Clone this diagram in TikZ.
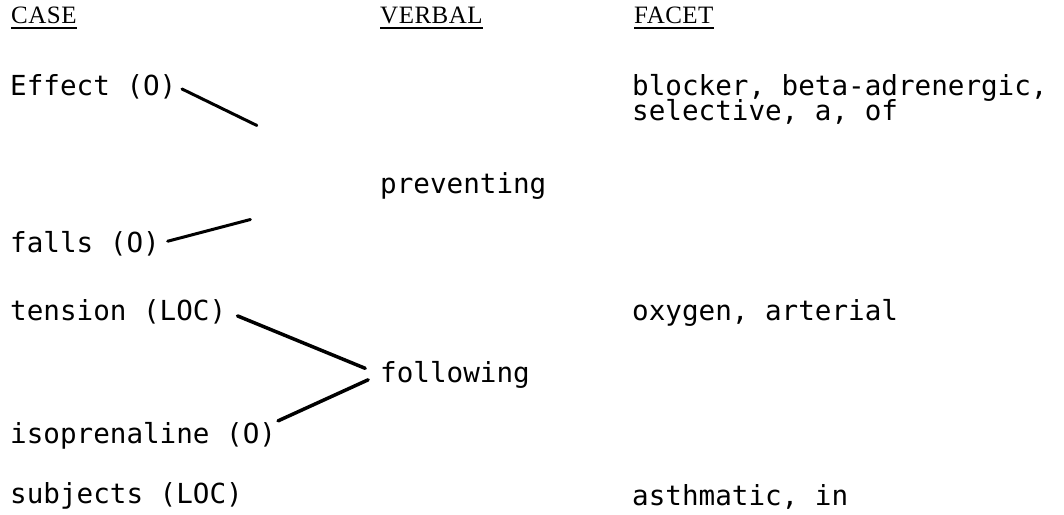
\documentclass[tikz,border=0pt]{standalone}
\usepackage{fontspec}
\setmonofont{DejaVu Sans Mono}
\newfontfamily\headfont[LetterSpace=2]{Liberation Serif}

\tikzset{
  word/.style={anchor=base west,inner sep=0pt,font=\ttfamily\fontsize{27.6}{30}\selectfont},
  head/.style={anchor=base west,inner sep=0pt,font=\headfont\fontsize{25}{27}\selectfont},
  link/.style={draw=black,line width=3.5pt,line cap=round},
  rule/.style={draw=black,line width=1.8pt}
}

\begin{document}
\begin{tikzpicture}[x=1pt,y=-1pt]

\useasboundingbox (0,0) rectangle (1064,514);

%headings
\node[head] (hcase) at (11,23) {CASE};
\node[head] (hverb) at (380,23) {VERBAL};
\node[head] (hfacet) at (634,23) {FACET};
\path[rule] ([yshift=-5pt]hcase.base west) -- ([yshift=-5pt]hcase.base east);
\path[rule] ([yshift=-5pt]hverb.base west) -- ([yshift=-5pt]hverb.base east);
\path[rule] ([yshift=-5pt]hfacet.base west) -- ([yshift=-5pt]hfacet.base east);

%case
\node[word] (effect) at (10,95) {Effect (O)};
\node[word] (falls) at (10,252) {falls (O)};
\node[word] (tension) at (10,320) {tension (LOC)};
\node[word] (isopren) at (10,443) {isoprenaline (O)};
\node[word] (subjects) at (10,503) {subjects (LOC)};

%verbal
\node[word] (prevent) at (380,193) {preventing};
\node[word] (follow) at (380,382) {following};

%facet
\node[word] (blocker) at (632,95) {blocker, beta-adrenergic,};
\node[word] (selective) at (632,120) {selective, a, of};
\node[word] (oxygen) at (632,320) {oxygen, arterial};
\node[word] (asthma) at (632,505) {asthmatic, in};

%links
\path[link,line width=3pt,shorten <=6pt,shorten >=137pt] (effect.east) -- (prevent.west);
\path[link,line width=3pt,shorten <=8pt,shorten >=134pt] (falls.east) -- (prevent.west);
\path[link,shorten <=12pt,shorten >=16pt] (tension.east) -- (follow.west);
\path[link,shorten <=2pt,shorten >=13pt] (isopren.north east) -- (follow.west);

\end{tikzpicture}
\end{document}
